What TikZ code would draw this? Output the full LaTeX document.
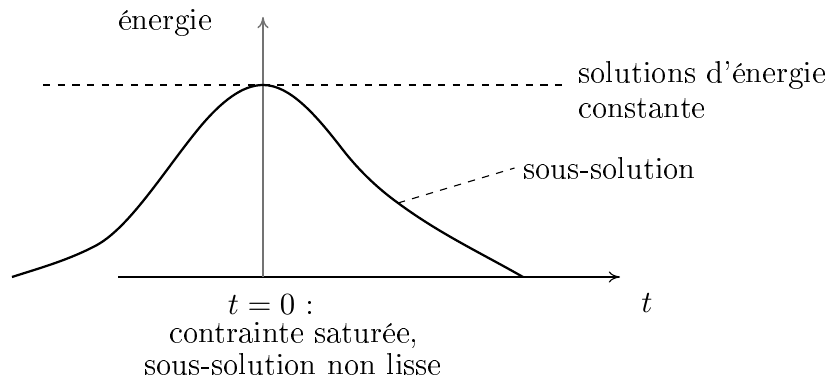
\documentclass[tikz,border=0pt]{standalone}
\usepackage[T1]{fontenc}
\usepackage{tikz}
\usetikzlibrary{arrows.meta}
\tikzset{
  axline/.style={line width=0.4pt, draw=black, -{To[length=4pt,width=4pt]}},
  vaxline/.style={line width=0.5pt, draw=black!55, -{To[length=4pt,width=4pt]}},
  courbe/.style={line width=0.8pt, draw=black, line join=round},
  pointille/.style={line width=0.4pt, draw=black, dash pattern=on 2.6pt off 2.6pt},
  etiq/.style={inner sep=0pt, font=\fontsize{11.4pt}{14pt}\selectfont},
}
\begin{document}
\begin{tikzpicture}[x=0.0125cm, y=-0.0125cm]
\useasboundingbox (0,0) rectangle (832,379);
% axes
\coordinate (o) at (263,277);
\coordinate (xg) at (118,277);
\coordinate (xd) at (620,277);
\coordinate (yh) at (263,17);
\draw[axline] (xg) -- (xd);
\draw[vaxline] (o) -- (yh);
% energie constante
\coordinate (dg) at (43,85);
\coordinate (dd) at (568,85);
\draw[pointille] (dg) -- (dd);
% sous-solution
\coordinate (c0) at (12,277);
\coordinate (c1) at (97,245);
\coordinate (c2) at (200,127);
\coordinate (sommet) at (263,85);
\coordinate (c3) at (343,150);
\coordinate (pc) at (398,203);
\coordinate (c4) at (523,277);
\draw[courbe] (c0) .. controls (40,268) and (69,260) .. (c1)
  .. controls (131,226) and (166,168) .. (c2)
  .. controls (221,102) and (242,85) .. (sommet)
  .. controls (290,85) and (316,115) .. (c3)
  .. controls (361,173) and (380,190) .. (pc)
  .. controls (440,234) and (481,253) .. (c4);
\node[etiq, anchor=west] (ssol) at (523,168) {sous-solution};
\draw[pointille] (pc) -- ([xshift=-3pt]ssol.west);
% textes
\node[etiq] (en) at (165,22) {énergie};
\node[etiq, anchor=west] (sol) at (578,75) {solutions d'énergie};
\node[etiq, anchor=west] (cst) at (578,108) {constante};
\node[etiq] (tz) at (271,305) {$t=0$ :};
\node[etiq] (cs) at (294,335) {contrainte saturée,};
\node[etiq] (nl) at (293,364) {sous-solution non lisse};
\node[etiq] (tt) at (647,303) {$t$};
\end{tikzpicture}
\end{document}
